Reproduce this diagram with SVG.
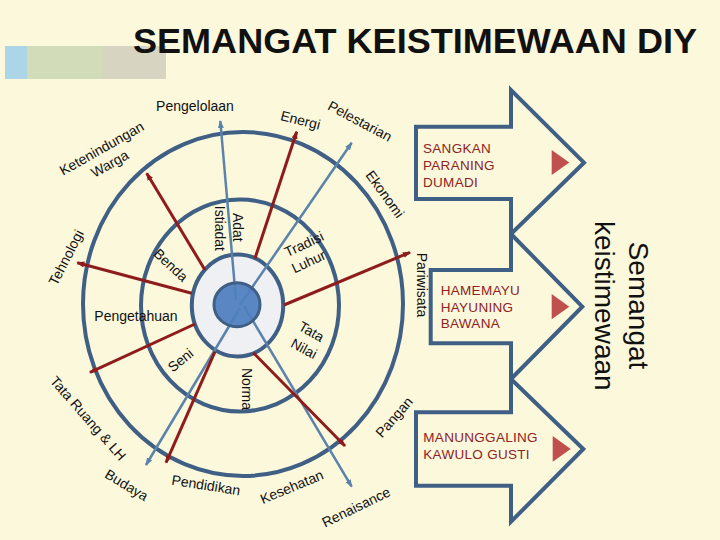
<svg xmlns="http://www.w3.org/2000/svg" width="720" height="540" viewBox="0 0 720 540">
<style>
.lbl{font-family:"Liberation Sans",Arial,sans-serif;font-size:14px;fill:#111;text-anchor:middle;dominant-baseline:central}
.blk{font-family:"Liberation Sans",Arial,sans-serif;font-size:13.5px;fill:#8e2222;letter-spacing:0.3px}
.ring{fill:none;stroke:#3f5f85;stroke-width:4}
.barrow{fill:none;stroke:#3f5f85;stroke-width:4;stroke-linejoin:miter}
.tri{fill:#c0504d}
.bl{stroke:#5a82aa;stroke-width:2.5;fill:none;marker-end:url(#mb)}
.rl{stroke:#8e1c1c;stroke-width:3;fill:none;marker-end:url(#mr)}
.big{font-family:"Liberation Sans",Arial,sans-serif;font-size:28px;fill:#111;text-anchor:middle}
</style>
<defs>
<marker id="mb" markerUnits="userSpaceOnUse" markerWidth="10" markerHeight="10" refX="7" refY="4" orient="auto">
<path d="M0,1 L8,4 L0,7 Z" fill="#5a82aa"/>
</marker>
<marker id="mr" markerUnits="userSpaceOnUse" markerWidth="10" markerHeight="10" refX="7" refY="4" orient="auto">
<path d="M0,1 L8,4 L0,7 Z" fill="#8e1c1c"/>
</marker>
</defs>
<rect x="0" y="0" width="720" height="540" fill="#fcf8dc"/>
<g id="header">
<rect x="5" y="46" width="22" height="33" fill="#acd6e8"/>
<rect x="27" y="46" width="76" height="33" fill="#d3dcb8"/>
<rect x="103" y="46" width="63" height="33" fill="#d8d4c2"/>
<text x="133" y="53" font-family="'Liberation Sans',Arial,sans-serif" font-size="35" font-weight="bold" fill="#111" textLength="564" lengthAdjust="spacingAndGlyphs">SEMANGAT KEISTIMEWAAN DIY</text>
</g>
<g id="rings">
<ellipse class="ring" cx="243" cy="304" rx="160" ry="172"/>
<ellipse class="ring" cx="240" cy="305.5" rx="99" ry="106"/>
</g>
<g id="core-light">
<ellipse cx="237.5" cy="305.4" rx="45.7" ry="51" fill="#eef0f3" stroke="#3f5f85" stroke-width="4"/>
</g>
<g id="connectors">
<line class="bl" x1="236" y1="300" x2="220.3" y2="121"/>
<line class="bl" x1="240" y1="305" x2="351.7" y2="142.7"/>
<line class="bl" x1="240" y1="308" x2="146" y2="465"/>
<line class="bl" x1="244" y1="306" x2="351.7" y2="486.7"/>
<line class="rl" x1="205" y1="270" x2="146.7" y2="173.3"/>
<line class="rl" x1="255" y1="258.3" x2="296.7" y2="131.7"/>
<line class="rl" x1="191.7" y1="293.3" x2="77.3" y2="262.7"/>
<line class="rl" x1="284" y1="305" x2="410" y2="252.3"/>
<line class="rl" x1="195" y1="324" x2="90" y2="372.3"/>
<line class="rl" x1="215" y1="351.7" x2="166" y2="462.7"/>
<line class="rl" x1="253.3" y1="352.7" x2="345" y2="446"/>
</g>
<g id="core-dark">
<ellipse cx="237" cy="304.7" rx="23" ry="22" fill="#4f7fbf" fill-opacity="0.93" stroke="#3f5f85" stroke-width="3"/>
</g>
<g id="labels">
<text class="lbl" x="195" y="106">Pengelolaan</text>
<text class="lbl" transform="translate(300.5,120) rotate(14)">Energi</text>
<text class="lbl" transform="translate(360,121) rotate(28)">Pelestarian</text>
<text class="lbl" transform="translate(385,194) rotate(54)">Ekonomi</text>
<text class="lbl" transform="translate(421.7,285) rotate(90)">Pariwisata</text>
<text class="lbl" transform="translate(101.5,148.3) rotate(-29.5)">Ketenindungan</text>
<text class="lbl" transform="translate(109.7,163.7) rotate(-29.5)">Warga</text>
<text class="lbl" transform="translate(66,257.5) rotate(-63)">Tehnologi</text>
<text class="lbl" transform="translate(238.3,227.3) rotate(90)">Adat</text>
<text class="lbl" transform="translate(220,228.3) rotate(90)">Istiadat</text>
<text class="lbl" transform="translate(171,265) rotate(43)">Benda</text>
<text class="lbl" transform="translate(304,244) rotate(-25)">Tradisi</text>
<text class="lbl" transform="translate(308.5,261.5) rotate(-25)">Luhur</text>
<text class="lbl" x="136" y="315.5">Pengetahuan</text>
<text class="lbl" transform="translate(180.5,360) rotate(-39)">Seni</text>
<text class="lbl" transform="translate(246.7,389) rotate(90)">Norma</text>
<text class="lbl" transform="translate(311.5,331.5) rotate(30)">Tata</text>
<text class="lbl" transform="translate(304,348.5) rotate(28)">Nilai</text>
<text class="lbl" transform="translate(88.3,418.3) rotate(48.7)">Tata Ruang &amp; LH</text>
<text class="lbl" transform="translate(126.7,485) rotate(31)">Budaya</text>
<text class="lbl" transform="translate(206,485) rotate(9)">Pendidikan</text>
<text class="lbl" transform="translate(291.7,486.7) rotate(-22.5)">Kesehatan</text>
<text class="lbl" transform="translate(356,507) rotate(-26)">Renaisance</text>
<text class="lbl" transform="translate(394,417) rotate(-49)">Pangan</text>
</g>
<g id="arrow-sangkan">
<path class="barrow" d="M416,126.7 H511 V90 L584,162.7 L511,234 V199 H416 Z"/>
<polygon class="tri" points="551.7,150 569.3,162.5 551.7,175"/>
<text class="blk" x="423" y="153">SANGKAN</text>
<text class="blk" x="423" y="170">PARANING</text>
<text class="blk" x="423" y="186.7">DUMADI</text>
</g>
<g id="arrow-hamemayu">
<path class="barrow" d="M430.7,270 H511 V234 L582.3,306.7 L511,379 V343.3 H430.7 Z"/>
<polygon class="tri" points="551.7,294 569.3,306.7 551.7,319.3"/>
<text class="blk" x="440.7" y="295">HAMEMAYU</text>
<text class="blk" x="440.7" y="312">HAYUNING</text>
<text class="blk" x="440.7" y="328">BAWANA</text>
</g>
<g id="arrow-manunggaling">
<path class="barrow" d="M416,412.3 H511 V379 L583.3,449 L511,521.7 V485.7 H416 Z"/>
<polygon class="tri" points="552.7,436 570.7,449 552.7,461.7"/>
<text class="blk" x="423.3" y="442">MANUNGGALING</text>
<text class="blk" x="423.3" y="459">KAWULO GUSTI</text>
</g>
<g id="semangat">
<text class="big" transform="translate(629,305.5) rotate(90)">Semangat</text>
<text class="big" transform="translate(595,305.8) rotate(90)">keistimewaan</text>
</g>
</svg>
